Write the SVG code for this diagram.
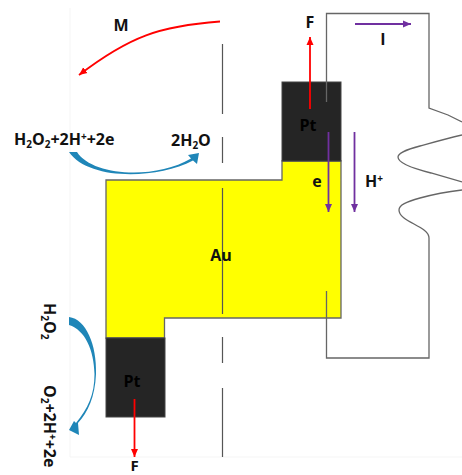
<svg xmlns="http://www.w3.org/2000/svg" width="462" height="475" viewBox="0 0 462 475">
<style>
text{font-family:"Open Sans","Liberation Sans",sans-serif;font-weight:700;fill:#111}
.l{font-size:16px}
.s{font-size:10px}
.c{text-anchor:middle}
.k{fill:#000}
.w{fill:none;stroke:#666;stroke-width:1.300}
.r{stroke:#f00;stroke-width:1.800;fill:none}
.p{stroke:#7030a0;stroke-width:1.800;fill:none}
.d{stroke:#555;stroke-width:1.200;fill:none}
.b{fill:#1f86b8}
</style>
<defs>
<marker id="ar" markerUnits="userSpaceOnUse" markerWidth="9" markerHeight="8" refX="8" refY="4" orient="auto"><path d="M0,0.500L8,4L0,7.500z" fill="#f00"/></marker>
<marker id="ap" markerUnits="userSpaceOnUse" markerWidth="9" markerHeight="8" refX="8" refY="4" orient="auto"><path d="M0,0.500L8,4L0,7.500z" fill="#7030a0"/></marker>
</defs>
<rect width="462" height="475" fill="#fff"/>
<path d="M70,8V457H462" fill="none" stroke="#f5f5f5"/>
<g id="electrode-au"><path d="M106,180H282V161H341V318H164.500V338H106z" fill="#ff0" stroke="#666" stroke-width="1.300"/></g>
<g id="electrode-pt-top"><rect x="282" y="82" width="59" height="79" fill="#252525" stroke="#444"/></g>
<g id="electrode-pt-bottom"><rect x="106" y="338" width="59" height="79" fill="#252525" stroke="#444"/></g>
<g id="connectors">
<path class="d" d="M222.500,44V114M222.500,137V163M222.500,188V314M222.500,337V363M222.500,388V457"/>
<path class="w" d="M326.500,102V13.500H429V108L448,115L462,122M462,135C445,139 431,143 420,146C405,150 398,153 398,157C398,163 415,169 431,173L462,182M462,190C445,192 431,195 420,198C406,202 399,205 399,210C399,222 429,226 429,238V358H326.500V291"/>
<path class="r" marker-end="url(#ar)" d="M220,21.500C160,26 130,36 79,75"/>
<path class="r" marker-end="url(#ar)" d="M310,109V37"/>
<path class="r" marker-end="url(#ar)" d="M134.500,399V457"/>
<path class="p" marker-end="url(#ap)" d="M355,24H411"/>
<path class="p" marker-end="url(#ap)" d="M328.500,132V212"/>
<path class="p" marker-end="url(#ap)" d="M354.500,132V212"/>
<path class="b" d="M69,152L77,152C92,176 155,180 191,158.500L188,155L199,153L197,164L193,160.500C155,180 88,180 69,152z"/>
<path class="b" d="M69,317C86,319 97,345 96,374C95,397 88,412 78,423L79,435L69,430L74,421L76,423C88,408 94.500,395 94.500,374C94,350 85,330 69,325z"/>
</g>
<text class="l c" x="121" y="31">M</text>
<text class="l c" x="310" y="28">F</text>
<text class="l c" x="383" y="45">I</text>
<text class="l c k" x="308" y="131">Pt</text>
<text class="l c" x="317" y="187">e</text>
<text class="l" x="365" y="187">H<tspan class="s" dy="-5">+</tspan></text>
<text class="l c" x="221" y="261">Au</text>
<text class="l c k" x="132" y="387">Pt</text>
<text class="c" style="font-size:15px" x="134.500" y="470.500">F</text>
<text class="l" x="14" y="145">H<tspan class="s" dy="3">2</tspan><tspan dy="-3">O</tspan><tspan class="s" dy="3">2</tspan><tspan dy="-3">+2H</tspan><tspan class="s" dy="-5">+</tspan><tspan dy="5">+2e</tspan></text>
<text class="l" x="171" y="146">2H<tspan class="s" dy="3">2</tspan><tspan dy="-3">O</tspan></text>
<text class="l" transform="translate(44,303) rotate(90)">H<tspan class="s" dy="3">2</tspan><tspan dy="-3">O</tspan><tspan class="s" dy="3">2</tspan></text>
<text class="l" transform="translate(44,385) rotate(90)">O<tspan class="s" dy="3">2</tspan><tspan dy="-3">+2H</tspan><tspan class="s" dy="-5">+</tspan><tspan dy="5">+2e</tspan></text>
</svg>
